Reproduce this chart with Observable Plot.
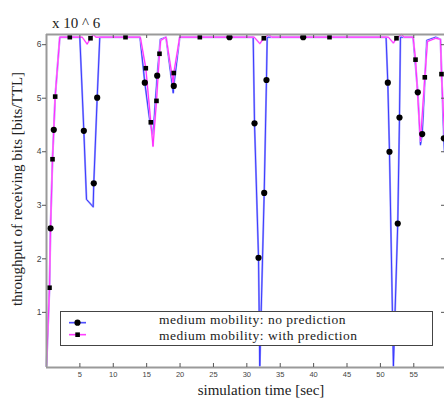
<!DOCTYPE html>
<html>
<head>
<meta charset="utf-8">
<script src="https://cdn.jsdelivr.net/npm/d3@7"></script>
<script src="https://cdn.jsdelivr.net/npm/@observablehq/plot@0.6"></script>
<style>
  html, body { margin: 0; padding: 0; background: white; overflow: hidden; }
  #chart { position: relative; width: 444px; height: 401px; }
</style>
</head>
<body>
<div id="chart"></div>
<script>
// ---- data ----
const xDomain = [0, 59.6];
const yDomain = [-0.03, 6.19];
const xTicks = [5, 10, 15, 20, 25, 30, 35, 40, 45, 50, 55];
const xTickLabels = ["5", "10", "15", "20", "25", "30", "35", "40", "45", "50", "55"];
const yTicks = [1, 2, 3, 4, 5, 6];
const yTickLabels = ["1", "2", "3", "4", "5", "6"];

const seriesNames = ["medium mobility: no prediction", "medium mobility: with prediction"];

// no prediction (blue line)
const noPredX = [0, 0.45, 0.6, 0.9, 1.09, 1.3, 1.99, 4.99, 5.59, 5.99, 6.99, 7.08, 7.59, 7.98,
  14.0, 14.72, 15.5, 15.95, 16.58, 17.05, 17.9, 18.98, 19.06, 19.95,
  30.95, 31.15, 31.75, 31.94, 32.6, 32.94, 33.05,
  50.85, 51.11, 51.36, 51.95, 52.6, 52.86, 53.0,
  54.9, 55.6, 56.0, 56.26, 56.95, 58.3, 59.0, 59.5, 59.6];
const noPredY = [0, 1.46, 2.57, 3.86, 4.41, 5.03, 6.14, 6.14, 4.39, 3.11, 2.97, 3.41, 5.01, 6.14,
  6.14, 5.29, 4.55, 4.3, 5.42, 6.1, 6.14, 5.1, 5.23, 6.14,
  6.14, 4.53, 2.02, 0, 3.23, 5.34, 6.14,
  6.14, 5.29, 4.0, 0, 2.66, 4.64, 6.14,
  6.14, 5.11, 4.13, 4.33, 6.08, 6.14, 6.1, 4.25, 4.0];

// with prediction (magenta line)
const withPredX = [0, 0.45, 0.6, 0.9, 1.09, 1.3, 1.99, 5.35, 6.09, 6.59, 6.99, 7.4,
  14.05, 14.87, 15.62, 15.95, 16.47, 16.92, 17.1, 17.9, 18.98, 19.06, 19.95,
  31.1, 31.95, 32.54, 33.3, 33.7,
  51.2, 51.95, 52.41, 53.15, 53.55,
  54.9, 55.26, 56.0, 56.65, 57.05, 58.3, 59.0, 59.15, 59.6];
const withPredY = [0, 1.46, 2.57, 3.86, 4.41, 5.03, 6.14, 6.14, 6.01, 6.12, 6.19, 6.14,
  6.14, 5.56, 4.55, 4.1, 4.95, 5.83, 6.08, 6.14, 5.28, 5.47, 6.14,
  6.14, 6.02, 6.12, 6.19, 6.14,
  6.14, 6.03, 6.12, 6.19, 6.14,
  6.14, 5.72, 4.2, 5.39, 6.06, 6.12, 6.1, 5.45, 4.3];

// markers: circles (no prediction)
const circleX = [0.6, 1.09, 5.59, 7.08, 7.59, 14.72, 16.58, 19.06, 27.4, 31.15, 31.75, 32.6, 32.94,
  38.44, 51.11, 51.36, 52.6, 52.86, 55.6, 56.26, 59.5];
const circleY = [2.57, 4.41, 4.39, 3.41, 5.01, 5.29, 5.42, 5.23, 6.14, 4.53, 2.02, 3.23, 5.34,
  6.14, 5.29, 4.0, 2.66, 4.64, 5.11, 4.33, 4.25];

// markers: squares (with prediction)
const squareX = [0.45, 0.9, 1.3, 3.49, 6.59, 11.83, 14.87, 15.62, 16.47, 16.92, 19.06, 22.96,
  32.54, 42.38, 52.41, 55.26, 56.65, 59.15];
const squareY = [1.46, 3.86, 5.03, 6.14, 6.12, 6.14, 5.56, 4.55, 4.95, 5.83, 5.47, 6.14,
  6.12, 6.14, 6.12, 5.72, 5.39, 5.45];

const toRows = (xs, ys) => xs.map((x, i) => ({x, y: ys[i]}));
const noPred = toRows(noPredX, noPredY);
const withPred = toRows(withPredX, withPredY);
const circles = toRows(circleX, circleY);
const squares = toRows(squareX, squareY);

const blueDark = "#2f2fff", blueLight = "#a4a4ff";
const magDark = "#ff1aff", magLight = "#ffa8ff";
const axisGray = "#9a9a9a";
const serif = "'Liberation Serif', 'Times New Roman', serif";

const chart = Plot.plot({
  width: 444, height: 401,
  marginLeft: 46, marginRight: 0, marginTop: 34, marginBottom: 34,
  x: {domain: xDomain},
  y: {domain: yDomain},
  style: {background: "white", color: "#333", fontFamily: "'Liberation Sans', Arial, sans-serif", fontSize: "8px", overflow: "visible"},
  marks: [
    Plot.line(noPred, {x: "x", y: "y", stroke: blueLight, strokeWidth: 2}),
    Plot.line(noPred, {x: "x", y: "y", stroke: blueDark, strokeWidth: 0.9}),
    Plot.line(withPred, {x: "x", y: "y", stroke: magLight, strokeWidth: 1.8}),
    Plot.line(withPred, {x: "x", y: "y", stroke: magDark, strokeWidth: 0.9}),
    Plot.dot(circles, {x: "x", y: "y", r: 3.1, fill: "black", stroke: "none"}),
    Plot.dot(squares, {x: "x", y: "y", r: 2.6, symbol: "square", fill: "black", stroke: "none"}),
    Plot.ruleX([xDomain[0]], {stroke: axisGray, strokeWidth: 2}),
    Plot.ruleY([yDomain[1]], {stroke: axisGray, strokeWidth: 2}),
    Plot.ruleY([yDomain[0]], {stroke: axisGray, strokeWidth: 2}),
    // ticks
    Plot.axisX({anchor: "bottom", ticks: xTicks, tickSize: 4, dy: -4, fill: "none", stroke: "#555", label: null}),
    Plot.axisX({anchor: "top", ticks: xTicks, tickSize: 3, dy: 3, fill: "none", stroke: "#555", label: null}),
    Plot.axisY({anchor: "left", ticks: yTicks, tickSize: 4, fill: "none", stroke: "#555", label: null}),
    Plot.axisY({anchor: "right", ticks: yTicks, tickSize: 4, dx: -4, fill: "none", stroke: "#555", label: null}),
    // tick labels
    Plot.axisX({anchor: "bottom", ticks: xTicks, tickSize: 0, tickPadding: 4,
      tickFormat: d => xTickLabels[xTicks.indexOf(d)], fill: "#444", fontSize: 7.5, label: null}),
    Plot.axisY({anchor: "left", ticks: yTicks, tickSize: 0, tickPadding: 5,
      tickFormat: d => yTickLabels[yTicks.indexOf(d)], fill: "#444", fontSize: 8.5, label: null})
  ]
});

const svg = d3.select(chart);

// exponent label
svg.append("text").attr("x", 52).attr("y", 27.5).attr("text-anchor", "start")
  .attr("font-family", serif).attr("font-size", 15).attr("fill", "#222")
  .text("x 10 ^ 6");

// y axis title
svg.append("text").attr("transform", "translate(22,189) rotate(-90)")
  .attr("text-anchor", "middle")
  .attr("font-family", serif).attr("font-size", 15).attr("fill", "#222")
  .text("throughput of receiving bits [bits/TTL]");

// x axis title
svg.append("text").attr("x", 261).attr("y", 395)
  .attr("text-anchor", "middle")
  .attr("font-family", serif).attr("font-size", 15).attr("fill", "#222")
  .text("simulation time [sec]");

// legend
const lg = svg.append("g");
lg.append("rect").attr("x", 60.5).attr("y", 311.5).attr("width", 372).attr("height", 34)
  .attr("fill", "white").attr("stroke", "#444").attr("stroke-width", 1);
const legendRows = [
  {name: seriesNames[0], y: 322.7, base: 323.6, dark: blueDark, light: blueLight, sym: "circle"},
  {name: seriesNames[1], y: 334.7, base: 339.6, dark: magDark, light: magLight, sym: "square"}
];
legendRows.forEach(r => {
  lg.append("line").attr("x1", 69).attr("x2", 86).attr("y1", r.y).attr("y2", r.y)
    .attr("stroke", r.light).attr("stroke-width", 2);
  lg.append("line").attr("x1", 69).attr("x2", 86).attr("y1", r.y).attr("y2", r.y)
    .attr("stroke", r.dark).attr("stroke-width", 0.9);
  if (r.sym === "circle") {
    lg.append("circle").attr("cx", 77.5).attr("cy", r.y).attr("r", 3.1).attr("fill", "black");
  } else {
    lg.append("rect").attr("x", 75.3).attr("y", r.y - 2.3).attr("width", 4.6).attr("height", 4.6).attr("fill", "black");
  }
  lg.append("text").attr("x", 159).attr("y", r.base).attr("text-anchor", "start")
    .attr("font-family", serif).attr("font-size", 13.5).attr("letter-spacing", 0.5).attr("fill", "#222")
    .text(r.name);
});

document.getElementById("chart").appendChild(chart);
</script>
</body>
</html>
